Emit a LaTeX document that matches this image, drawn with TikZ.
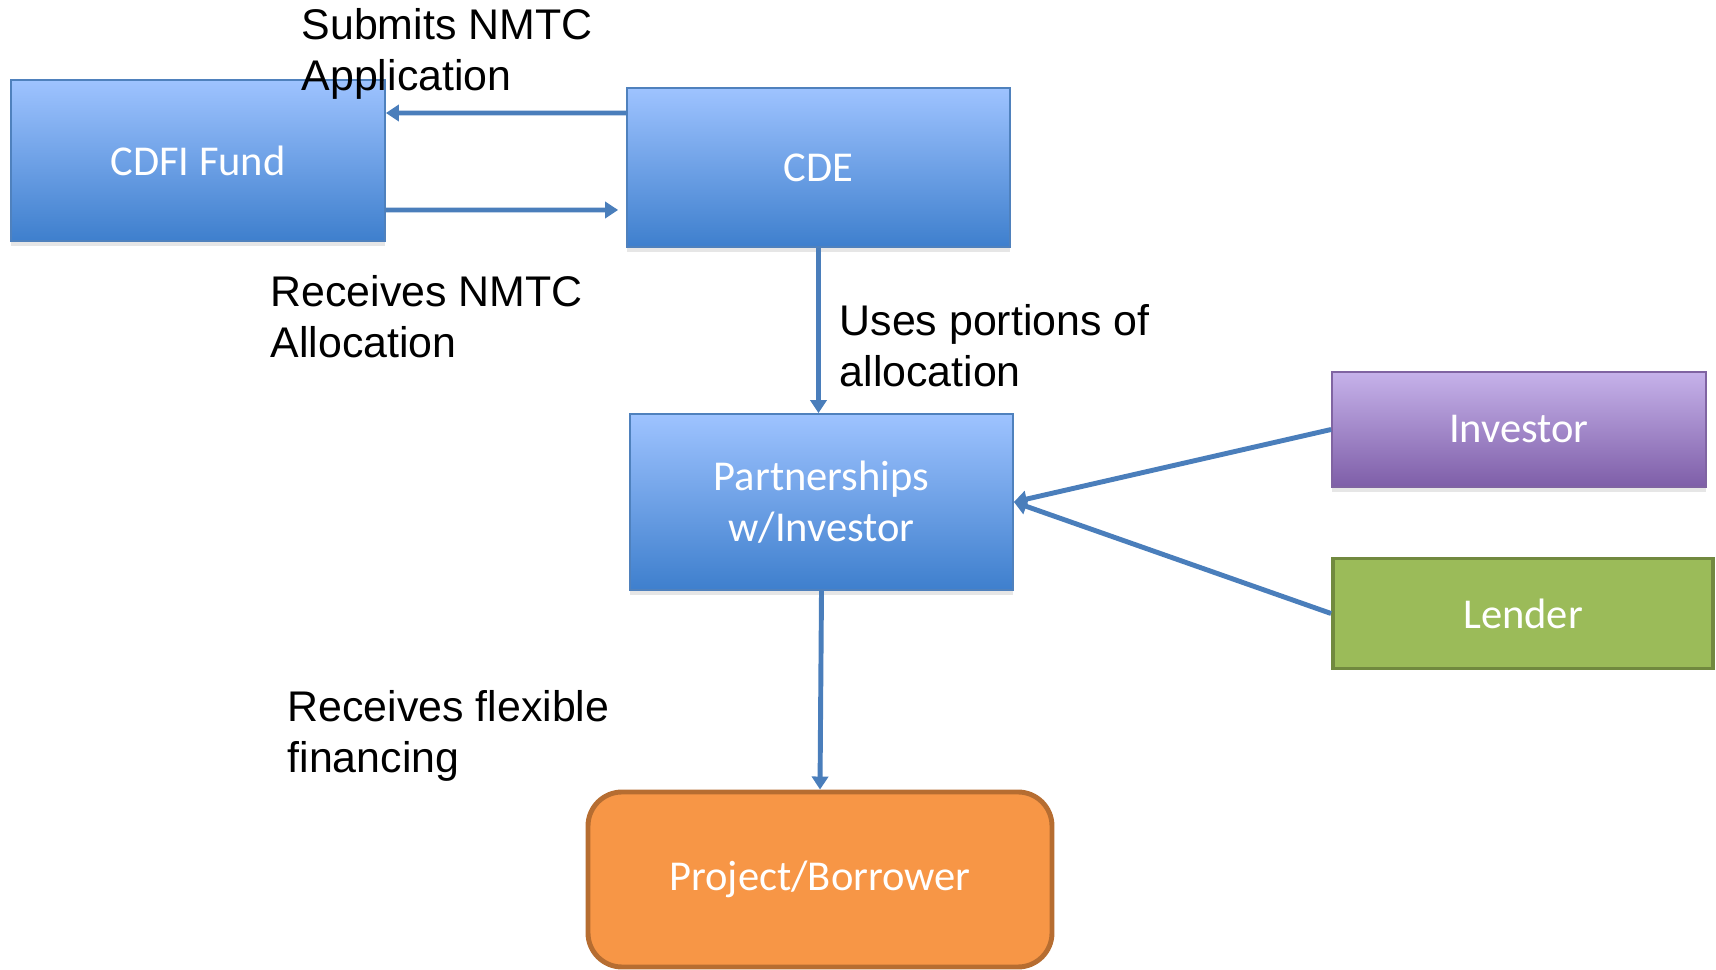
\documentclass[tikz,border=0pt]{standalone}
\usepackage{fontspec}
\setmainfont{Liberation Sans}
\newfontfamily\boxfont{Carlito}
\usetikzlibrary{arrows.meta,shadows}
\definecolor{flow}{RGB}{74,126,187}
\definecolor{bluetop}{RGB}{158,195,255}
\definecolor{bluebot}{RGB}{62,127,205}
\definecolor{blueedge}{RGB}{79,129,189}
\definecolor{purptop}{RGB}{198,178,234}
\definecolor{purpbot}{RGB}{126,94,168}
\definecolor{purpedge}{RGB}{128,100,162}
\definecolor{greenfill}{RGB}{155,187,89}
\definecolor{greenedge}{RGB}{113,137,63}
\definecolor{orangefill}{RGB}{247,150,70}
\definecolor{orangeedge}{RGB}{182,109,49}
\begin{document}
\begin{tikzpicture}[x=0.1mm,y=-0.1mm,>={Triangle[length=3.7pt,width=4.6pt]},
 n/.style={draw=blueedge,line width=0.5pt,text=white,
  font=\boxfont\fontsize{12.1}{14.6}\selectfont,align=center,inner sep=0pt},
 sh/.style={drop shadow={shadow xshift=0pt,shadow yshift=-0.5mm,opacity=0.2}},
 lab/.style={anchor=north west,inner sep=0pt,align=left,font=\fontsize{12.2}{14.3}\selectfont},
 arr/.style={->,draw=flow,line width=1.4pt}]
\useasboundingbox (0,0) rectangle (1716,970);
\node[n,sh,top color=bluetop,bottom color=bluebot,minimum width=37.4mm,minimum height=16.1mm] (cdfi) at (198,160.5) {CDFI Fund};
\node[n,sh,top color=bluetop,bottom color=bluebot,minimum width=38.3mm,minimum height=15.9mm] (cde) at (818.5,167.5) {CDE};
\node[n,sh,top color=bluetop,bottom color=bluebot,minimum width=38.3mm,minimum height=17.6mm] (part) at (821.5,502) {Partnerships\\w/Investor};
\node[n,sh,draw=purpedge,top color=purptop,bottom color=purpbot,minimum width=37.4mm,minimum height=11.5mm] (inv) at (1519,429.5) {Investor};
\node[n,draw=greenedge,line width=1.1pt,fill=greenfill,minimum width=38mm,minimum height=11mm] (lend) at (1523,613.5) {Lender};
\node[n,draw=orangeedge,line width=1.4pt,fill=orangefill,rounded corners=3.4mm,
 minimum width=46.4mm,minimum height=17.5mm] (proj) at (820,879.5) {Project/Borrower};
% flows between the boxes
\draw[arr] ([yshift=5.45mm]cde.west) -- ([yshift=4.75mm]cdfi.east);
\draw[arr,shorten >=0.8mm] ([yshift=-4.95mm]cdfi.east) -- ([yshift=-4.25mm]cde.west);
\draw[arr] (cde.south) -- (cde.south |- part.north);
\draw[arr] (part.south) -- (proj.north);
\draw[arr] (inv.west) -- (part.east);
\draw[arr] (lend.west) -- (part.east);
\node[lab] (submits) at (301,8) {Submits NMTC\\Application};
\node[lab] (receives) at (270,275) {Receives NMTC\\Allocation};
\node[lab] (uses) at (839,304) {Uses portions of\\allocation};
\node[lab] (flexible) at (287,690) {Receives flexible\\financing};
\end{tikzpicture}
\end{document}
